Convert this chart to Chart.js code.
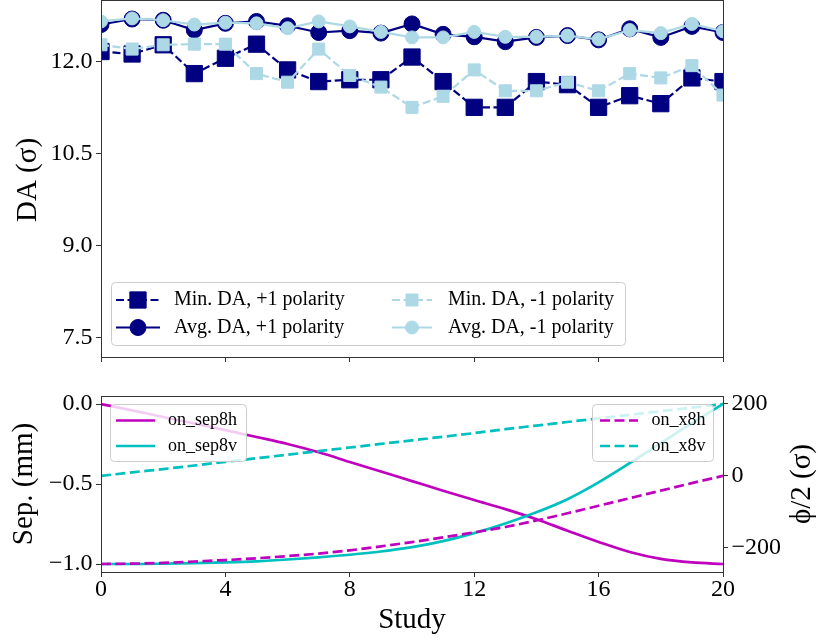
<!DOCTYPE html>
<html><head><meta charset="utf-8">
<script src="https://cdn.jsdelivr.net/npm/chart.js@4.4.1/dist/chart.umd.min.js"></script>
<style>
html,body{margin:0;padding:0;background:#fff;}
#wrap{position:relative;width:818px;height:643px;overflow:hidden;background:#fff;}
canvas{position:absolute;left:0;}
#c1{top:0;} #c2{top:380px;}
</style></head><body>
<div id="wrap"><canvas id="c1" width="818" height="380"></canvas><canvas id="c2" width="818" height="263"></canvas></div>
<script>
// ---------- data ----------
const studies = [0,1,2,3,4,5,6,7,8,9,10,11,12,13,14,15,16,17,18,19,20];
const minDAPos = [12.16,12.12,12.27,11.80,12.05,12.28,11.86,11.67,11.70,11.70,12.07,11.67,11.25,11.25,11.67,11.62,11.25,11.44,11.31,11.73,11.67];
const avgDAPos = [12.60,12.69,12.67,12.51,12.62,12.65,12.58,12.47,12.50,12.46,12.61,12.44,12.40,12.32,12.39,12.42,12.35,12.53,12.39,12.57,12.47];
const minDANeg = [12.27,12.20,12.27,12.28,12.28,11.80,11.66,12.20,11.77,11.58,11.25,11.43,11.86,11.52,11.52,11.66,11.52,11.80,11.73,11.93,11.45];
const avgDANeg = [12.65,12.70,12.67,12.60,12.63,12.62,12.54,12.65,12.57,12.48,12.39,12.39,12.48,12.40,12.40,12.42,12.36,12.51,12.46,12.61,12.49];
const onSep8h = [0,-0.04,-0.081,-0.122,-0.163,-0.206,-0.25,-0.302,-0.362,-0.422,-0.482,-0.542,-0.600,-0.657,-0.72,-0.792,-0.862,-0.925,-0.968,-0.99,-1.0];
const onSep8v = [-1.0,-1.0,-0.998,-0.995,-0.99,-0.983,-0.972,-0.958,-0.942,-0.922,-0.895,-0.857,-0.807,-0.747,-0.677,-0.595,-0.49,-0.37,-0.245,-0.12,0.0];
const onX8h = [-245,-244,-242,-238,-234,-229,-223,-216,-207,-196,-184,-171,-157,-142,-124,-104,-83,-62,-41,-20,0];
const onX8v = [0,10,19,29,39,49,59,69,79,89,99,109,119,130,140,150,160,170,180,190,200];
const xTicks = [0,4,8,12,16,20];
const daTicks = [7.5,9.0,10.5,12.0];
const sepTicks = [-1.0,-0.5,0.0];
const phiTicks = [-200,0,200];

// ---------- styles ----------
const FONT = '"Liberation Serif", "Times New Roman", Times, serif';
const AX = '#333333';
const NAVY = '#000080', LIGHT = '#add8e6', MAG = '#bf00bf', CYN = '#00bfbf';
const pts = arr => studies.map((s,i)=>({x:s, y:arr[i]}));
const fmt = (v,d) => (v<0?'\u2212':'') + Math.abs(v).toFixed(d);
const setTicks = arr => (s => { s.ticks = arr.map(v=>({value:v})); });
const gridOpts = {display:true, drawOnChartArea:false, drawTicks:true, tickLength:5, color:AX, lineWidth:1};
const tickFont = {family:FONT, size:24, lineHeight:1};

function rrect(ctx,x,y,w,h,r){ctx.beginPath();ctx.moveTo(x+r,y);ctx.arcTo(x+w,y,x+w,y+h,r);ctx.arcTo(x+w,y+h,x,y+h,r);ctx.arcTo(x,y+h,x,y,r);ctx.arcTo(x,y,x+w,y,r);ctx.closePath();}
function marker(ctx, ds, x, y){
  const r = ds.pointRadius; if(!r) return;
  ctx.save(); ctx.setLineDash([]);
  ctx.fillStyle = ds.pointBackgroundColor; ctx.strokeStyle = ds.pointBorderColor; ctx.lineWidth = ds.pointBorderWidth||1;
  ctx.beginPath();
  if(ds.pointStyle==='rect'){ const h=r*Math.SQRT1_2; ctx.rect(x-h,y-h,2*h,2*h); } else { ctx.arc(x,y,r,0,Math.PI*2); }
  ctx.fill(); ctx.stroke(); ctx.restore();
}
function decor(cfg){
  return { id:'decor', afterDatasetsDraw(chart){
    const ctx = chart.ctx, a = chart.chartArea;
    ctx.save();
    ctx.strokeStyle = AX; ctx.lineWidth = 1; ctx.setLineDash([]);
    ctx.strokeRect(a.left+0.5, a.top+0.5, a.right-a.left, a.bottom-a.top);
    (cfg.legends||[]).forEach(L=>{
      rrect(ctx, L.x, L.y, L.w, L.h, 4);
      ctx.fillStyle = 'rgba(255,255,255,0.8)'; ctx.fill();
      ctx.strokeStyle = '#cccccc'; ctx.lineWidth = 1; ctx.stroke();
      L.items.forEach(it=>{
        const ds = chart.data.datasets[it.ds];
        ctx.save();
        ctx.strokeStyle = ds.borderColor; ctx.lineWidth = ds.borderWidth; ctx.setLineDash(ds.borderDash||[]);
        ctx.beginPath(); ctx.moveTo(it.x0, it.y); ctx.lineTo(it.x1, it.y); ctx.stroke();
        ctx.restore();
        marker(ctx, ds, (it.x0+it.x1)/2, it.y);
        ctx.fillStyle = '#000'; ctx.font = L.font + 'px ' + FONT; ctx.textAlign = 'left'; ctx.textBaseline = 'middle';
        ctx.fillText(ds.label, it.tx, it.y);
      });
    });
    (cfg.titles||[]).forEach(t=>{
      ctx.save(); ctx.fillStyle = '#000'; ctx.font = t.size + 'px ' + FONT;
      ctx.textAlign = 'center'; ctx.textBaseline = 'alphabetic';
      ctx.translate(t.x, t.y); if(t.rot) ctx.rotate(t.rot);
      ctx.fillText(t.text, 0, 0); ctx.restore();
    });
    ctx.restore();
  }};
}

const common = {responsive:false, animation:false, events:[], plugins:{legend:{display:false}, tooltip:{enabled:false}}};

// ---------- top chart ----------
new Chart(document.getElementById('c1'), {
  type:'line',
  data:{datasets:[
    {label:'Min. DA, +1 polarity', data:pts(minDAPos), borderColor:NAVY, backgroundColor:NAVY, borderWidth:2.2, borderDash:[8,3.5], pointStyle:'rect', pointRadius:11.5, pointBorderWidth:1, pointBackgroundColor:NAVY, pointBorderColor:NAVY, order:4},
    {label:'Avg. DA, +1 polarity', data:pts(avgDAPos), borderColor:NAVY, backgroundColor:NAVY, borderWidth:2.2, pointStyle:'circle', pointRadius:8, pointBorderWidth:1, pointBackgroundColor:NAVY, pointBorderColor:NAVY, order:3},
    {label:'Min. DA, -1 polarity', data:pts(minDANeg), borderColor:LIGHT, backgroundColor:LIGHT, borderWidth:2.2, borderDash:[8,3.5], pointStyle:'rect', pointRadius:8.5, pointBorderWidth:1, pointBackgroundColor:LIGHT, pointBorderColor:LIGHT, order:2},
    {label:'Avg. DA, -1 polarity', data:pts(avgDANeg), borderColor:LIGHT, backgroundColor:LIGHT, borderWidth:2.2, pointStyle:'circle', pointRadius:6.5, pointBorderWidth:1, pointBackgroundColor:LIGHT, pointBorderColor:LIGHT, order:1}
  ].map(d=>Object.assign({tension:0, fill:false, clip:0, pointHoverRadius:d.pointRadius}, d))},
  options:Object.assign({}, common, {
    layout:{padding:{top:0,left:0,right:95,bottom:0}, autoPadding:false},
    scales:{
      x:{type:'linear', min:0, max:20, afterBuildTicks:setTicks(xTicks),
         afterFit:s=>{s.height=23; s.paddingLeft=0; s.paddingRight=0;},
         ticks:{display:false, autoSkip:false}, grid:gridOpts, border:{display:false}},
      y:{type:'linear', position:'left', min:7.18, max:13.0, afterBuildTicks:setTicks(daTicks),
         afterFit:s=>{s.width=101; s.paddingTop=0; s.paddingBottom=0;},
         ticks:{callback:v=>fmt(v,1), padding:3.5, font:tickFont, color:'#000', autoSkip:false}, grid:gridOpts, border:{display:false}}
    }
  }),
  plugins:[decor({
    legends:[{x:111.5, y:282.5, w:514, h:63, font:20, items:[
      {ds:0, x0:116, x1:160, y:300, tx:174},
      {ds:1, x0:116, x1:160, y:327.5, tx:174},
      {ds:2, x0:392, x1:432, y:300, tx:448},
      {ds:3, x0:392, x1:432, y:327.5, tx:448}
    ]}],
    titles:[{text:'DA (\u03c3)', x:36, y:180, rot:-Math.PI/2, size:29}]
  })]
});

// ---------- bottom chart ----------
new Chart(document.getElementById('c2'), {
  type:'line',
  data:{datasets:[
    {label:'on_sep8h', data:pts(onSep8h), yAxisID:'y', borderColor:MAG, borderWidth:2.7, order:4},
    {label:'on_sep8v', data:pts(onSep8v), yAxisID:'y', borderColor:CYN, borderWidth:2.7, order:3},
    {label:'on_x8h', data:pts(onX8h), yAxisID:'y2', borderColor:MAG, borderWidth:2.7, borderDash:[10,4.5], order:2},
    {label:'on_x8v', data:pts(onX8v), yAxisID:'y2', borderColor:CYN, borderWidth:2.7, borderDash:[10,4.5], order:1}
  ].map(d=>Object.assign({fill:false, clip:0, pointRadius:0, pointHoverRadius:0, cubicInterpolationMode:'monotone', backgroundColor:d.borderColor}, d))},
  options:Object.assign({}, common, {
    layout:{padding:{top:16,left:0,right:0,bottom:0}, autoPadding:false},
    scales:{
      x:{type:'linear', min:0, max:20, afterBuildTicks:setTicks(xTicks),
         afterFit:s=>{s.height=71; s.paddingLeft=0; s.paddingRight=0;},
         ticks:{callback:v=>String(v), padding:1, font:tickFont, color:'#000', autoSkip:false, maxRotation:0}, grid:gridOpts, border:{display:false}},
      y:{type:'linear', position:'left', min:-1.05, max:0.05, afterBuildTicks:setTicks(sepTicks),
         afterFit:s=>{s.width=101; s.paddingTop=0; s.paddingBottom=0;},
         ticks:{callback:v=>fmt(v,1), padding:3.5, font:tickFont, color:'#000', autoSkip:false}, grid:gridOpts, border:{display:false}},
      y2:{type:'linear', position:'right', min:-267.25, max:222.25, afterBuildTicks:setTicks(phiTicks),
         afterFit:s=>{s.width=95; s.paddingTop=0; s.paddingBottom=0;},
         ticks:{callback:v=>fmt(v,0), padding:3.5, font:tickFont, color:'#000', autoSkip:false}, grid:gridOpts, border:{display:false}}
    }
  }),
  plugins:[decor({
    legends:[
      {x:110.5, y:24.5, w:136, h:57, font:18, items:[
        {ds:0, x0:116, x1:155, y:40.5, tx:168},
        {ds:1, x0:116, x1:155, y:66, tx:168}]},
      {x:592.5, y:24.5, w:121, h:57, font:18, items:[
        {ds:2, x0:600, x1:638, y:40.5, tx:651.5},
        {ds:3, x0:600, x1:638, y:66, tx:651.5}]}
    ],
    titles:[
      {text:'Sep. (mm)', x:32, y:104, rot:-Math.PI/2, size:29},
      {text:'\u03d5/2 (\u03c3)', x:810, y:104, rot:-Math.PI/2, size:29},
      {text:'Study', x:412, y:248, rot:0, size:29}
    ]
  })]
});
</script>
</body></html>
